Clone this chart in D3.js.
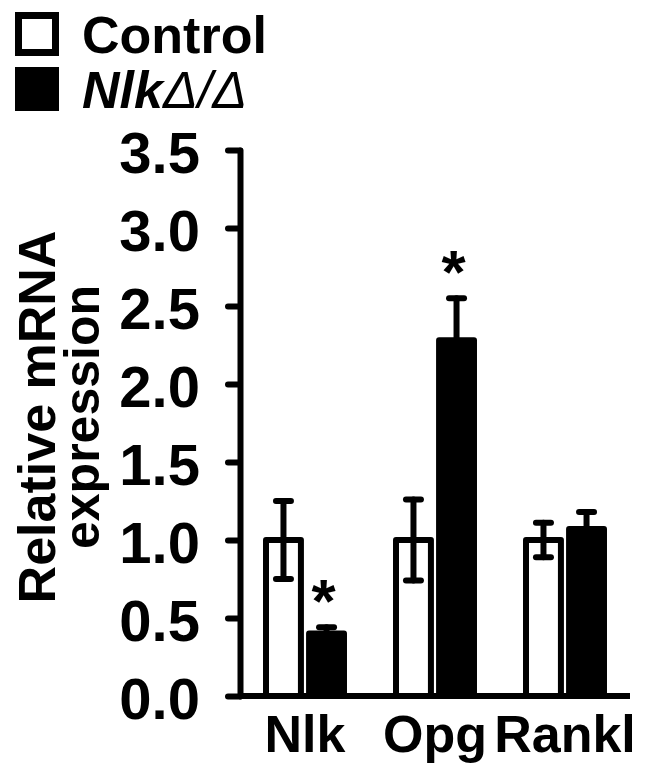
<!DOCTYPE html>
<html>
<head>
<meta charset="utf-8">
<script src="https://cdn.jsdelivr.net/npm/d3@7"></script>
<style>
  body { margin: 0; background: #fff; }
  text { font-family: "Liberation Sans", Arial, sans-serif; fill: #000; }
</style>
</head>
<body>
<div></div>
<script>
const genes = ["Nlk", "Opg", "Rankl"];
const groups = ["Control", "KO"];
const controlMean = [1.0, 1.0, 1.0];
const controlErr = [0.25, 0.26, 0.11];
const koMean = [0.40, 2.28, 1.07];
const koErr = [0.04, 0.27, 0.11];
const koSignificant = [true, true, false];
const yTicks = [0, 0.5, 1, 1.5, 2, 2.5, 3, 3.5];

const width = 648, height = 764;
const axisX = 240, axisRight = 630, axisBottomY = 696, axisTopY = 150;

const svg = d3.select("div").append("svg").attr("width", width).attr("height", height);

const x = d3.scaleBand().domain(genes).range([axisX, axisRight]).paddingInner(0.354).paddingOuter(0.177);
const xSub = d3.scaleBand().domain(groups).range([0, x.bandwidth()]).paddingInner(0.05);
const y = d3.scaleLinear().domain([0, 3.5]).range([axisBottomY, axisTopY]);

const rows = genes.map((g, i) => [
  { gene: g, group: "Control", v: controlMean[i], e: controlErr[i], sig: false },
  { gene: g, group: "KO", v: koMean[i], e: koErr[i], sig: koSignificant[i] }
]).flat();

const sw = 6;
const bars = svg.append("g");
bars.selectAll("rect")
  .data(rows)
  .enter()
  .append("rect")
  .attr("x", d => x(d.gene) + xSub(d.group) + sw / 2)
  .attr("width", xSub.bandwidth() - sw)
  .attr("y", d => y(d.v))
  .attr("height", d => y(0) - y(d.v))
  .attr("fill", d => d.group === "KO" ? "#000" : "#fff")
  .attr("stroke", "#000")
  .attr("stroke-width", sw)
  .attr("stroke-linejoin", "round");

// error bars
const err = svg.append("g").attr("stroke", "#000").attr("stroke-width", 6).attr("stroke-linecap", "round");
const cx = d => x(d.gene) + xSub(d.group) + xSub.bandwidth() / 2;
err.selectAll(".stem").data(rows).enter().append("line")
  .attr("x1", cx).attr("x2", cx)
  .attr("y1", d => y(d.v - d.e)).attr("y2", d => y(d.v + d.e));
err.selectAll(".capTop").data(rows).enter().append("line")
  .attr("x1", d => cx(d) - 7.5).attr("x2", d => cx(d) + 7.5)
  .attr("y1", d => y(d.v + d.e)).attr("y2", d => y(d.v + d.e));
err.selectAll(".capBot").data(rows.filter(d => d.group === "Control")).enter().append("line")
  .attr("x1", d => cx(d) - 7.5).attr("x2", d => cx(d) + 7.5)
  .attr("y1", d => y(d.v - d.e)).attr("y2", d => y(d.v - d.e));

// asterisks
svg.append("g").selectAll("text")
  .data(rows.filter(d => d.sig))
  .enter()
  .append("text")
  .attr("x", d => cx(d) - 3)
  .attr("y", d => y(d.v + d.e) - 5)
  .attr("text-anchor", "middle")
  .attr("font-size", 62)
  .attr("font-weight", "bold")
  .text("*");

// y axis
const yAxis = d3.axisLeft(y).tickValues(yTicks).tickFormat(d3.format(".1f")).tickSize(12).tickSizeOuter(0).tickPadding(28);
const gy = svg.append("g").attr("transform", `translate(${axisX},0)`).call(yAxis);
gy.select(".domain").attr("stroke-width", 6).attr("stroke-linecap", "round");
gy.selectAll(".tick line").attr("stroke-width", 6).attr("stroke-linecap", "round");
gy.selectAll(".tick text").attr("font-size", 58).attr("font-weight", "bold").attr("font-family", "Liberation Sans, Arial, sans-serif").attr("dy", "0.38em");

// x axis
const xAxis = d3.axisBottom(x).tickSize(0).tickSizeOuter(0);
const gx = svg.append("g").attr("transform", `translate(0,${axisBottomY})`).call(xAxis);
gx.select(".domain").attr("stroke-width", 6).attr("d", `M${axisX},0H${axisRight}`);
gx.selectAll(".tick text").attr("font-size", 52).attr("font-weight", "bold").attr("font-family", "Liberation Sans, Arial, sans-serif")
  .attr("y", 56).attr("dy", 0);

// y label
const yl = svg.append("g").attr("font-weight", "bold");
yl.append("text").attr("transform", "translate(55,417) rotate(-90)").attr("text-anchor", "middle").attr("font-size", 52).text("Relative mRNA");
yl.append("text").attr("transform", "translate(99,417) rotate(-90)").attr("text-anchor", "middle").attr("font-size", 50).text("expression");

// legend
const legend = svg.append("g");
legend.append("rect").attr("x", 18.5).attr("y", 15.5).attr("width", 37).attr("height", 37)
  .attr("fill", "#fff").attr("stroke", "#000").attr("stroke-width", 7);
legend.append("rect").attr("x", 15).attr("y", 67).attr("width", 44).attr("height", 44).attr("fill", "#000");
legend.append("text").attr("x", 82).attr("y", 53).attr("font-size", 52).attr("font-weight", "bold").text("Control");
const lt = legend.append("text").attr("x", 82).attr("y", 108).attr("font-size", 52).attr("font-style", "italic");
lt.append("tspan").attr("font-weight", "bold").text("Nlk");
lt.append("tspan").attr("font-weight", "normal").text("Δ/Δ");
</script>
</body>
</html>
